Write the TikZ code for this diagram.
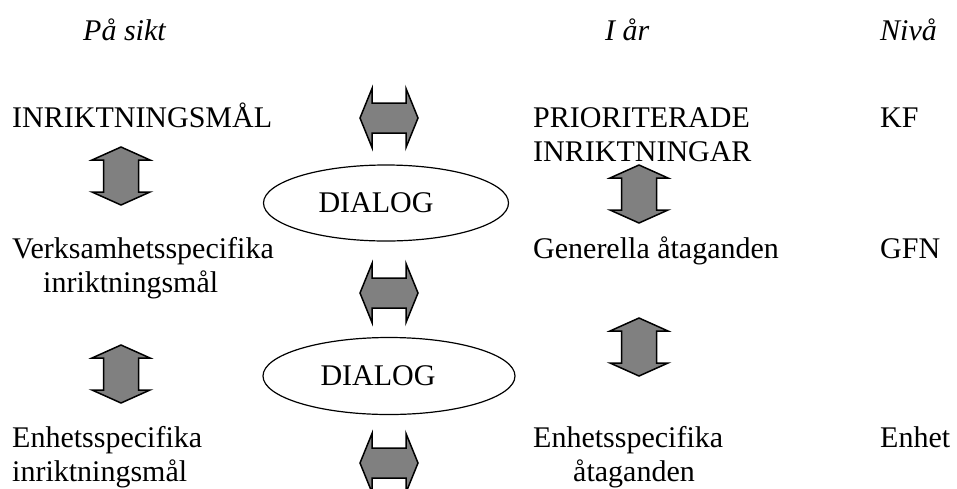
\documentclass[tikz,border=0pt]{standalone}
\usepackage{fontspec}
\setmainfont{Liberation Serif}
\usetikzlibrary{shapes.geometric}

\tikzset{
    blockarrow/.style={draw=black, line width=1.5pt, fill=gray, line join=miter},
    harrow/.pic={
        \path[blockarrow] (-29,0) -- (-17,-29.5) -- (-17,-15) -- (17,-15) -- (17,-29.5)
            -- (29,0) -- (17,29.5) -- (17,15) -- (-17,15) -- (-17,29.5) -- cycle;
    },
    varrow/.pic={
        \path[blockarrow] (0,-29) -- (29,-16) -- (17.5,-16) -- (17.5,16) -- (29,16)
            -- (0,29) -- (-29,16) -- (-17.5,16) -- (-17.5,-16) -- (-29,-16) -- cycle;
    }
}

\begin{document}
\begin{tikzpicture}[
    x=1pt, y=-1pt,
    lbl/.style={inner sep=0pt, anchor=base west, align=left, font=\fontsize{30}{34}\selectfont},
    colhead/.style={lbl, font=\fontsize{30}{34}\selectfont\itshape},
    dialog/.style={ellipse, draw, line width=1.2pt, inner sep=0pt, minimum width=245pt, minimum height=76pt, font=\fontsize{30}{34}\selectfont}
]
\useasboundingbox (0,0) rectangle (957,488);

% column heads
\node[colhead] (pasikt) at (83,40) {På sikt};
\node[colhead] (iar) at (605,40) {I år};
\node[colhead] (niva) at (880,40) {Nivå};

% rows (two-line nodes sit on the baseline of their last line)
\node[lbl] (inrmal) at (12,127) {INRIKTNINGSMÅL};
\node[lbl] (prio) at (533,161) {PRIORITERADE\\INRIKTNINGAR};
\node[lbl] (kf) at (880,127) {KF};

\node[lbl] (verks) at (12,292) {Verksamhetsspecifika\\\hspace*{31pt}inriktningsmål};
\node[lbl] (gen) at (533,258) {Generella åtaganden};
\node[lbl] (gfn) at (880,258) {GFN};

\node[lbl] (enhmal) at (12,481) {Enhetsspecifika\\inriktningsmål};
\node[lbl] (enhat) at (533,481) {Enhetsspecifika\\\hspace*{40pt}åtaganden};
\node[lbl] (enhet) at (880,447) {Enhet};

\node[dialog] (dialogA) at (386,203) {DIALOG\hspace*{20pt}};
\node[dialog, minimum width=252pt, minimum height=77pt] (dialogB) at (389,376) {DIALOG\hspace*{22pt}};

\pic (hA) at (389,118) {harrow};
\pic (hB) at (389,293) {harrow};
\pic (hC) at (389,463) {harrow};
\pic (vA) at (121,176) {varrow};
\pic (vB) at (121,374) {varrow};
\pic (vC) at (639,194) {varrow};
\pic (vD) at (639,347) {varrow};
\end{tikzpicture}
\end{document}
